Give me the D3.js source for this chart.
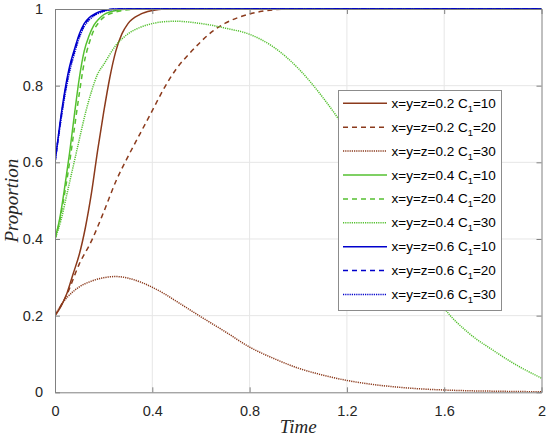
<!DOCTYPE html>
<html><head><meta charset="utf-8">
<script src="https://cdn.jsdelivr.net/npm/d3@7"></script>
<style>body{margin:0;background:#fff;} svg{display:block;}</style>
</head><body>
<svg id="chart" width="550" height="440"></svg>
<script>
// ---- data ----
const xTicks = [0, 0.4, 0.8, 1.2, 1.6, 2];
const yTicks = [0, 0.2, 0.4, 0.6, 0.8, 1];
const xTickLabels = ["0", "0.4", "0.8", "1.2", "1.6", "2"];
const yTickLabels = ["0", "0.2", "0.4", "0.6", "0.8", "1"];

const t_02_10 = [0, 0.025, 0.05, 0.075, 0.1, 0.125, 0.15, 0.175, 0.2, 0.225, 0.25, 0.275, 0.3, 0.35, 0.4, 0.45, 2];
const p_02_10 = [0.2, 0.225, 0.26, 0.31, 0.36, 0.43, 0.52, 0.63, 0.73, 0.82, 0.89, 0.935, 0.962, 0.986, 0.996, 1, 1];

const t_02_20 = [0, 0.05, 0.1, 0.15, 0.2, 0.25, 0.3, 0.35, 0.4, 0.45, 0.5, 0.55, 0.6, 0.65, 0.7, 0.75, 0.8, 0.85, 0.9, 1.0, 2];
const p_02_20 = [0.2, 0.257, 0.335, 0.395, 0.47, 0.55, 0.615, 0.675, 0.735, 0.795, 0.845, 0.882, 0.915, 0.943, 0.963, 0.977, 0.987, 0.994, 0.998, 1, 1];

const t_02_30 = [0, 0.025, 0.05, 0.075, 0.1, 0.15, 0.2, 0.25, 0.3, 0.35, 0.4, 0.45, 0.5, 0.55, 0.6, 0.7, 0.8, 0.9, 1.0, 1.1, 1.2, 1.3, 1.4, 1.5, 1.6, 1.7, 1.8, 1.9, 2.0];
const p_02_30 = [0.2, 0.228, 0.248, 0.263, 0.275, 0.29, 0.299, 0.302, 0.298, 0.288, 0.274, 0.257, 0.237, 0.217, 0.197, 0.158, 0.118, 0.088, 0.063, 0.045, 0.031, 0.021, 0.014, 0.009, 0.006, 0.004, 0.003, 0.002, 0.0015];

const t_04_10 = [0, 0.02, 0.04, 0.06, 0.08, 0.1, 0.12, 0.14, 0.16, 0.18, 0.2, 0.25, 0.3, 2];
const p_04_10 = [0.4, 0.455, 0.535, 0.625, 0.725, 0.82, 0.89, 0.93, 0.958, 0.974, 0.985, 0.996, 1, 1];

const t_04_20 = [0, 0.02, 0.04, 0.06, 0.08, 0.1, 0.12, 0.14, 0.16, 0.18, 0.2, 0.25, 0.3, 0.35, 2];
const p_04_20 = [0.4, 0.45, 0.52, 0.6, 0.69, 0.78, 0.86, 0.91, 0.945, 0.965, 0.978, 0.992, 0.998, 1, 1];

const t_04_30 = [0, 0.025, 0.05, 0.075, 0.1, 0.125, 0.15, 0.175, 0.2, 0.25, 0.3, 0.35, 0.4, 0.45, 0.5, 0.55, 0.6, 0.65, 0.7, 0.8, 0.9, 1.0, 1.1, 1.2, 1.3, 1.4, 1.5, 1.6, 1.7, 1.8, 1.9, 2.0];
const p_04_30 = [0.4, 0.45, 0.52, 0.59, 0.66, 0.728, 0.785, 0.83, 0.855, 0.905, 0.935, 0.952, 0.962, 0.967, 0.968, 0.966, 0.962, 0.957, 0.95, 0.934, 0.9, 0.845, 0.77, 0.68, 0.57, 0.45, 0.33, 0.22, 0.155, 0.11, 0.07, 0.037];

const t_06_10 = [0, 0.02, 0.04, 0.06, 0.08, 0.1, 0.12, 0.14, 0.16, 0.18, 0.2, 0.25, 2];
const p_06_10 = [0.6, 0.7, 0.785, 0.85, 0.895, 0.935, 0.962, 0.977, 0.986, 0.992, 0.996, 1, 1];

const t_06_20 = [0, 0.02, 0.04, 0.06, 0.08, 0.1, 0.12, 0.14, 0.16, 0.18, 0.2, 0.25, 2];
const p_06_20 = [0.6, 0.695, 0.778, 0.843, 0.89, 0.93, 0.958, 0.974, 0.984, 0.99, 0.995, 1, 1];

const t_06_30 = [0, 0.02, 0.04, 0.06, 0.08, 0.1, 0.12, 0.14, 0.16, 0.18, 0.2, 0.25, 0.3, 2];
const p_06_30 = [0.6, 0.69, 0.772, 0.836, 0.884, 0.925, 0.954, 0.971, 0.982, 0.989, 0.994, 0.999, 1, 1];

const seriesNames = ["x=y=z=0.2", "x=y=z=0.2", "x=y=z=0.2", "x=y=z=0.4", "x=y=z=0.4", "x=y=z=0.4", "x=y=z=0.6", "x=y=z=0.6", "x=y=z=0.6"];
const c1Values = ["10", "20", "30", "10", "20", "30", "10", "20", "30"];
const seriesT = [t_02_10, t_02_20, t_02_30, t_04_10, t_04_20, t_04_30, t_06_10, t_06_20, t_06_30];
const seriesP = [p_02_10, p_02_20, p_02_30, p_04_10, p_04_20, p_04_30, p_06_10, p_06_20, p_06_30];

// ---- styles ----
const colors = ["#8b3a1c", "#8b3a1c", "#8b3a1c", "#55c030", "#55c030", "#55c030", "#0000cc", "#0000cc", "#0000cc"];
const dashes = [null, "5,4", "1.2,1", null, "5,4", "1.2,1", null, "5,4", "1.2,1"];

const svg = d3.select("#chart");
const L = 55, R = 541.5, T = 9, B = 392.3;
const x = d3.scaleLinear().domain([0, 2]).range([L, R]);
const y = d3.scaleLinear().domain([0, 1]).range([B, T]);

svg.append("rect").attr("x", 0).attr("y", 0).attr("width", 550).attr("height", 440).attr("fill", "#fff");

// grid
const grid = svg.append("g");
grid.selectAll("line.gx").data(xTicks.slice(1, -1)).enter().append("line")
  .attr("x1", d => x(d)).attr("x2", d => x(d)).attr("y1", T).attr("y2", B)
  .attr("stroke", "#e6e6e6").attr("stroke-width", 1);
grid.selectAll("line.gy").data(yTicks.slice(1, -1)).enter().append("line")
  .attr("x1", L).attr("x2", R).attr("y1", d => y(d)).attr("y2", d => y(d))
  .attr("stroke", "#e6e6e6").attr("stroke-width", 1);

// clip
svg.append("clipPath").attr("id", "clip").append("rect")
  .attr("x", L).attr("y", T - 2).attr("width", R - L).attr("height", B - T + 2);

const line = d3.line().x(d => x(d[0])).y(d => y(d[1])).curve(d3.curveMonotoneX);
const plot = svg.append("g").attr("clip-path", "url(#clip)");
seriesT.forEach((ts, i) => {
  const pts = ts.map((t, j) => [t, seriesP[i][j]]);
  plot.append("path").datum(pts).attr("d", line)
    .attr("fill", "none").attr("stroke", colors[i]).attr("stroke-width", 1.5)
    .attr("stroke-dasharray", dashes[i]);
});

// axes
const fontTick = "'Liberation Sans', Arial, sans-serif";
const xAxisB = d3.axisBottom(x).tickValues(xTicks).tickFormat((d, i) => xTickLabels[i]).tickSizeInner(-5).tickSizeOuter(0).tickPadding(13);
const xAxisT = d3.axisTop(x).tickValues(xTicks).tickFormat("").tickSizeInner(-5).tickSizeOuter(0);
const yAxisL = d3.axisLeft(y).tickValues(yTicks).tickFormat((d, i) => yTickLabels[i]).tickSizeInner(-5).tickSizeOuter(0).tickPadding(12);
const yAxisR = d3.axisRight(y).tickValues(yTicks).tickFormat("").tickSizeInner(-5).tickSizeOuter(0);

function styleAxis(g) {
  g.select(".domain").attr("stroke", "#808080").attr("stroke-width", 1);
  g.selectAll(".tick line").attr("stroke", "#808080");
  g.selectAll(".tick text").attr("fill", "#262626").attr("font-family", fontTick).attr("font-size", "14.5px");
}
svg.append("g").attr("transform", `translate(0,${B})`).call(xAxisB).call(styleAxis);
svg.append("g").attr("transform", `translate(0,${T})`).call(xAxisT).call(styleAxis);
svg.append("g").attr("transform", `translate(${L},0)`).call(yAxisL).call(styleAxis);
svg.append("g").attr("transform", `translate(${R},0)`).call(yAxisR).call(styleAxis);

// axis labels
svg.append("text").attr("x", (L + R) / 2).attr("y", 433).attr("text-anchor", "middle")
  .attr("font-family", "'Liberation Serif', 'Times New Roman', serif").attr("font-style", "italic")
  .attr("font-size", "19px").attr("fill", "#262626").text("Time");
svg.append("text").attr("transform", `translate(18,${(T + B) / 2}) rotate(-90)`).attr("text-anchor", "middle")
  .attr("font-family", "'Liberation Serif', 'Times New Roman', serif").attr("font-style", "italic")
  .attr("font-size", "19px").attr("fill", "#262626").text("Proportion");

// legend
const lg = svg.append("g");
lg.append("rect").attr("x", 338.5).attr("y", 90.5).attr("width", 163).attr("height", 220)
  .attr("fill", "#fff").attr("stroke", "#8c8c8c").attr("stroke-width", 1);
seriesNames.forEach((nm, i) => {
  const cy = 103.3 + i * 23.9;
  lg.append("line").attr("x1", 343).attr("x2", 387).attr("y1", cy).attr("y2", cy)
    .attr("stroke", colors[i]).attr("stroke-width", 1.5).attr("stroke-dasharray", dashes[i]);
  const tx = lg.append("text").attr("x", 391.5).attr("y", cy + 4.5)
    .attr("font-family", fontTick).attr("font-size", "13.5px").attr("fill", "#000");
  tx.append("tspan").text(nm + " C");
  tx.append("tspan").attr("font-size", "9.5px").attr("dy", 4).text("1");
  tx.append("tspan").attr("dy", -4).text("=" + c1Values[i]);
});
</script>
</body></html>
